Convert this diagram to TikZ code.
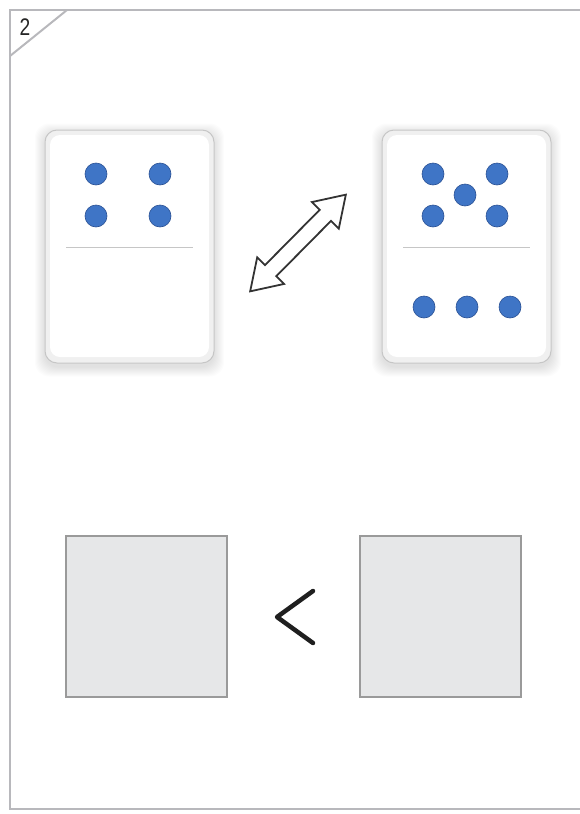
\documentclass[tikz,border=0pt]{standalone}
\usepackage{fontspec}
\setmainfont{Liberation Sans}
\usetikzlibrary{shapes.arrows}
\definecolor{framegray}{HTML}{B8B8BC}
\definecolor{pipblue}{HTML}{3F75C6}
\definecolor{pipedge}{HTML}{2A5194}
\definecolor{boxfill}{HTML}{E6E7E8}
\definecolor{boxedge}{HTML}{9A9A9A}

\begin{document}
\begin{tikzpicture}[x=1pt,y=-1pt,
		frame/.style={draw=framegray,line width=2pt},
		halo/.style={fill=black,fill opacity=0.012,rounded corners=14pt,inner sep=0pt},
		card/.style={draw=gray!45,fill=gray!12,line width=1pt,rounded corners=12pt,minimum width=169pt,minimum height=233pt,inner sep=0pt},
		cardface/.style={fill=white,rounded corners=10pt,minimum width=159pt,minimum height=222pt,inner sep=0pt},
		pip/.style={circle,fill=pipblue,draw=pipedge,line width=0.6pt,minimum size=22pt,inner sep=0pt},
		divider/.style={draw=gray!45,line width=1pt},
		answer/.style={draw=boxedge,fill=boxfill,line width=2pt,minimum size=161pt,inner sep=0pt},
		swap/.style={double arrow,draw=black!80,fill=white,line width=1.8pt,minimum height=136pt,inner sep=7pt,double arrow head extend=11pt,double arrow tip angle=66}]
		\useasboundingbox (0,0) rectangle (579,814);
		% page frame and number corner
		\draw[frame] (582,10) -- (10,10) -- (10,809) -- (582,809);
		\draw[frame] (10,56) -- (67,10);
		\node[font=\fontsize{24}{24}\selectfont,text=black!85,xscale=0.8] (num) at (25,27) {2};
		% dominoes
		\foreach \name/\cx in {left/129.5,right/466.5}{
			\foreach \g in {1,...,10}
				\node[halo,minimum width=169pt+2*\g pt,minimum height=233pt+2*\g pt] at (\cx,250) {};
			\node[card] (\name) at (\cx,246.5) {};
			\node[cardface] (\name face) at (\cx,246) {};
			\draw[divider] (\cx-63.5,247) -- (\cx+63.5,247);
		}
		\foreach \px/\py [count=\i] in {96/174,160/174,96/216,160/216}
			\node[pip] (l\i) at (\px,\py) {};
		\foreach \px/\py [count=\i] in {433/174,497/174,465/195,433/216,497/216,424/307,467/307,510/307}
			\node[pip] (r\i) at (\px,\py) {};
		% exchange arrow
		\node[swap,rotate=45.3] (swap) at (298,243) {};
		% answer boxes
		\node[answer] (first) at (146.5,616.5) {};
		\node[answer] (second) at (440.5,616.5) {};
		\coordinate (lttop) at (313,591);
		\coordinate (lttip) at (277,617);
		\coordinate (ltbot) at (313,643);
		\draw[black!88,line width=4.5pt,line cap=round,line join=round] (lttop) -- (lttip) -- (ltbot);
\end{tikzpicture}
\end{document}
